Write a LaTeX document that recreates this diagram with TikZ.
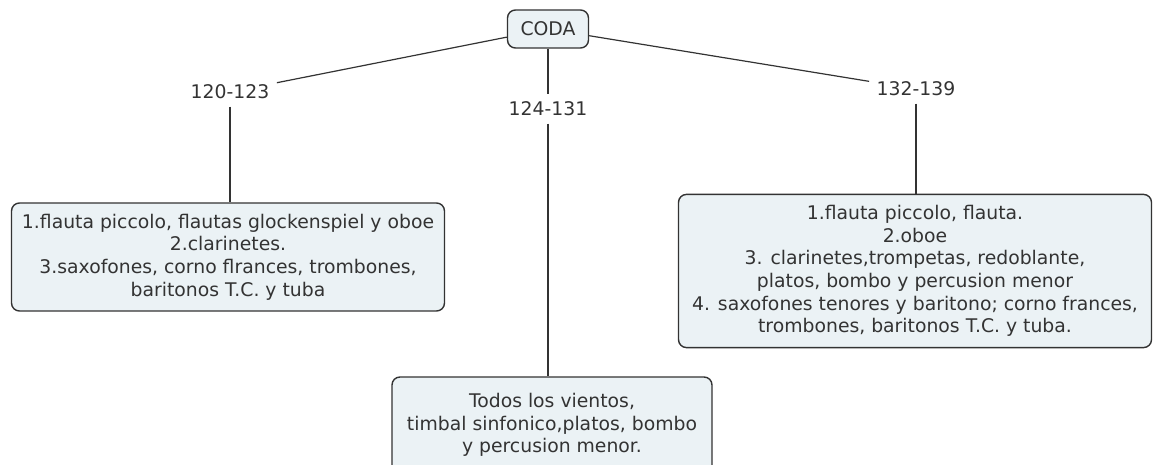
\documentclass[tikz,border=0pt]{standalone}
\usepackage{fontspec}
\setmainfont{DejaVu Sans}
\definecolor{boxfill}{RGB}{235,242,245}
\definecolor{inkgray}{RGB}{51,51,51}

\begin{document}
\begin{tikzpicture}[x=1pt,y=-1pt,color=inkgray,line width=1.2pt,font=\fontsize{18.8}{22.6}\selectfont]
	\tikzstyle{concept}=[draw,fill=boxfill,rounded corners=8pt,align=center,inner xsep=10pt,inner ysep=11pt,line width=1.4pt]
	\tikzstyle{phrase}=[inner sep=7pt]
	\useasboundingbox (0,0) rectangle (1157,465);

	\node[concept,minimum width=81pt,minimum height=38pt,inner sep=0pt] (coda) at (548,29) {CODA};

	\node[phrase] (l1) at (230,92) {120-123};
	\node[phrase] (l2) at (548,109) {124-131};
	\node[phrase] (l3) at (916,89) {132-139};

	\node[concept,minimum width=433pt] (b1) at (228,257) {1.flauta piccolo, flautas glockenspiel y oboe\\2.clarinetes.\\3.saxofones, corno flrances, trombones,\\baritonos T.C. y tuba};
	\node[concept,minimum width=320pt,minimum height=96pt] (b2) at (552,425) {Todos los vientos,\\timbal sinfonico,platos, bombo\\y percusion menor.};
	\node[concept,minimum width=473pt] (b3) at (915,271) {1.flauta piccolo, flauta.\\2.oboe\\3. clarinetes,trompetas, redoblante,\\platos, bombo y percusion menor\\4. saxofones tenores y baritono; corno frances,\\trombones, baritonos T.C. y tuba.};

	\draw (coda) -- (l1);
	\draw (coda) -- (l2);
	\draw (coda) -- (l3);
	\draw (l1) -- (b1.north -| l1);
	\draw (l2) -- (b2.north -| l2);
	\draw (l3) -- (b3.north -| l3);
\end{tikzpicture}
\end{document}
